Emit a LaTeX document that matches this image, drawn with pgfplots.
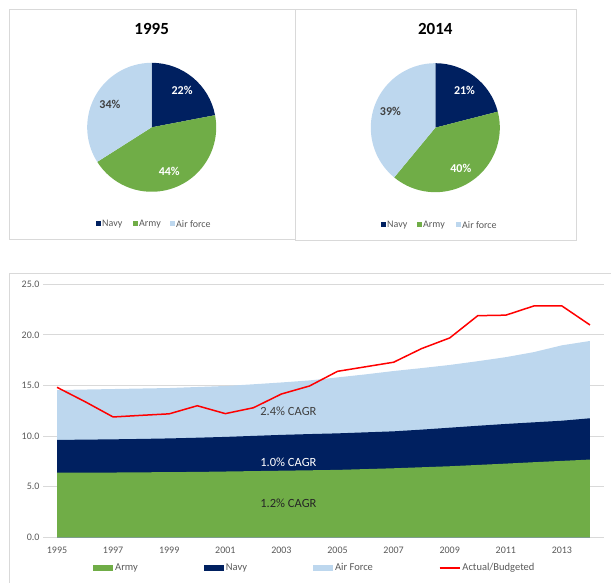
\documentclass[border=0pt]{standalone}
\usepackage{pgfplots}
\pgfplotsset{compat=1.18}
\usepackage{fontspec}
\setmainfont{Carlito}

\definecolor{navyc}{HTML}{002060}
\definecolor{armyc}{HTML}{70AD47}
\definecolor{airc}{HTML}{BDD7EE}
\definecolor{framec}{HTML}{D9D9D9}
\definecolor{ticktext}{HTML}{595959}
\definecolor{darktext}{HTML}{404040}

\pgfplotsset{
  barleg/.style={legend image code/.code={\fill[##1] (0pt,-3pt) rectangle (20pt,3pt);}},
  lineleg/.style={legend image code/.code={\draw[##1] (0pt,0pt) -- (20pt,0pt);}},
  pieaxis/.style={anchor=center, scale only axis, width=129pt, height=129pt,
    xmin=-1, xmax=1, ymin=-1, ymax=1, hide axis, clip=false},
}

\begin{document}
\begin{tikzpicture}[x=1pt,y=1pt]
\path[use as bounding box] (0,0) rectangle (611,583);

% panel frames
\draw[framec] (9,574) rectangle (295,344);
\draw[framec] (295,574) rectangle (576,343);
\draw[framec] (9,310) rectangle (615,-5);

% ---- 1995 pie: Navy 22, Army 44, Air force 34
\node[font=\bfseries\fontsize{17}{19}\selectfont] at (151.7,554) {1995};
\begin{axis}[pieaxis, at={(151.7pt,455.7pt)}]
\fill[navyc] (0,0) -- +(90:64.5pt) arc[start angle=90, delta angle=-79.2, radius=64.5pt] -- cycle;
\fill[armyc] (0,0) -- +(10.8:64.5pt) arc[start angle=10.8, delta angle=-158.4, radius=64.5pt] -- cycle;
\fill[airc] (0,0) -- +(-147.6:64.5pt) arc[start angle=-147.6, delta angle=-122.4, radius=64.5pt] -- cycle;
\path (0,0) ++(50.4:47.7pt) node[white,font=\bfseries\fontsize{12}{14}\selectfont] {22\%};
\path (0,0) ++(-68.4:47.7pt) node[white,font=\bfseries\fontsize{12}{14}\selectfont] {44\%};
\path (0,0) ++(151.2:47.7pt) node[darktext,font=\bfseries\fontsize{12}{14}\selectfont] {34\%};
\end{axis}
\begin{scope}[font=\fontsize{10}{12}\selectfont, text=ticktext]
\fill[navyc] (95.5,356.5) rectangle (100.5,361.5);
\node[anchor=west, inner sep=1.5pt] at (100.5,359) {Navy};
\fill[armyc] (132.5,356.5) rectangle (137.5,361.5);
\node[anchor=west, inner sep=1.5pt] at (137.5,359) {Army};
\fill[airc] (169.5,356.5) rectangle (174.5,361.5);
\node[anchor=west, inner sep=1.5pt] at (174.5,359) {Air force};
\end{scope}

% ---- 2014 pie: Navy 21, Army 40, Air force 39
\node[font=\bfseries\fontsize{17}{19}\selectfont] at (435.3,554) {2014};
\begin{axis}[pieaxis, at={(435.3pt,455.3pt)}]
\fill[navyc] (0,0) -- +(90:64.5pt) arc[start angle=90, delta angle=-75.6, radius=64.5pt] -- cycle;
\fill[armyc] (0,0) -- +(14.4:64.5pt) arc[start angle=14.4, delta angle=-144, radius=64.5pt] -- cycle;
\fill[airc] (0,0) -- +(-129.6:64.5pt) arc[start angle=-129.6, delta angle=-140.4, radius=64.5pt] -- cycle;
\path (0,0) ++(52.2:47.7pt) node[white,font=\bfseries\fontsize{12}{14}\selectfont] {21\%};
\path (0,0) ++(-57.6:47.7pt) node[white,font=\bfseries\fontsize{12}{14}\selectfont] {40\%};
\path (0,0) ++(160.2:47.7pt) node[darktext,font=\bfseries\fontsize{12}{14}\selectfont] {39\%};
\end{axis}
\begin{scope}[font=\fontsize{10}{12}\selectfont, text=ticktext]
\fill[navyc] (380.5,355.5) rectangle (385.5,360.5);
\node[anchor=west, inner sep=1.5pt] at (385.5,358) {Navy};
\fill[armyc] (416.5,355.5) rectangle (421.5,360.5);
\node[anchor=west, inner sep=1.5pt] at (421.5,358) {Army};
\fill[airc] (455.5,355.5) rectangle (460.5,360.5);
\node[anchor=west, inner sep=1.5pt] at (460.5,358) {Air force};
\end{scope}

% ---- spending over time
\begin{axis}[at={(43pt,45.7pt)}, anchor=south west, scale only axis,
  width=561pt, height=253pt,
  xmin=1994.5, xmax=2014.5, ymin=0, ymax=25,
  xtick={1995,1997,...,2013}, ytick={0,5,...,25},
  ymajorgrids, grid style={framec, line width=0.9pt},
  axis line style={draw=none}, major tick length=0pt,
  /pgf/number format/assume math mode=true,
  tick label style={font=\fontsize{10}{12}\selectfont, text=ticktext},
  x tick label style={/pgf/number format/1000 sep={}, yshift=-6pt},
  y tick label style={/pgf/number format/.cd, fixed, fixed zerofill, precision=1},
  legend columns=4,
  legend style={at={(0.0891,-0.121)}, anchor=west, draw=none, fill=none,
    inner sep=0pt, font=\fontsize{10.5}{12}\selectfont, text=ticktext,
    /tikz/every even column/.append style={column sep=64pt}},
  legend cell align=left]
% Air Force (total)
\addplot[fill=airc, draw=none, forget plot] coordinates {
(1995,14.55)(1996,14.60)(1997,14.65)(1998,14.70)(1999,14.75)(2000,14.85)
(2001,14.95)(2002,15.12)(2003,15.30)(2004,15.50)(2005,15.80)(2006,16.10)
(2007,16.43)(2008,16.72)(2009,17.03)(2010,17.40)(2011,17.80)(2012,18.30)
(2013,18.97)(2014,19.40)} \closedcycle;
% Navy (Army + Navy)
\addplot[fill=navyc, draw=none, forget plot] coordinates {
(1995,9.62)(1996,9.65)(1997,9.68)(1998,9.72)(1999,9.77)(2000,9.84)
(2001,9.92)(2002,10.02)(2003,10.12)(2004,10.20)(2005,10.27)(2006,10.37)
(2007,10.47)(2008,10.64)(2009,10.83)(2010,11.02)(2011,11.20)(2012,11.36)
(2013,11.52)(2014,11.76)} \closedcycle;
% Army
\addplot[fill=armyc, draw=none, forget plot] coordinates {
(1995,6.40)(1996,6.40)(1997,6.40)(1998,6.42)(1999,6.44)(2000,6.46)
(2001,6.50)(2002,6.54)(2003,6.58)(2004,6.62)(2005,6.66)(2006,6.74)
(2007,6.82)(2008,6.92)(2009,7.02)(2010,7.15)(2011,7.28)(2012,7.42)
(2013,7.55)(2014,7.68)} \closedcycle;
\addlegendimage{barleg, fill=armyc, draw=none}
\addlegendentry{Army}
\addlegendimage{barleg, fill=navyc, draw=none}
\addlegendentry{Navy}
\addlegendimage{barleg, fill=airc, draw=none}
\addlegendentry{Air Force}
\addplot[red, line width=1.5pt, lineleg] coordinates {
(1995,14.82)(1996,13.40)(1997,11.89)(1998,12.05)(1999,12.20)(2000,13.00)
(2001,12.22)(2002,12.80)(2003,14.16)(2004,14.95)(2005,16.40)(2006,16.85)
(2007,17.30)(2008,18.65)(2009,19.70)(2010,21.90)(2011,21.95)(2012,22.86)
(2013,22.86)(2014,20.98)};
\addlegendentry{Actual/Budgeted}
\node[darktext, font=\fontsize{12.5}{14}\selectfont] at (axis cs:2003.25,12.48) {2.4\% CAGR};
\node[white, font=\fontsize{12.5}{14}\selectfont] at (axis cs:2003.25,7.44) {1.0\% CAGR};
\node[black!85, font=\fontsize{12.5}{14}\selectfont] at (axis cs:2003.25,3.39) {1.2\% CAGR};
\end{axis}
\end{tikzpicture}
\end{document}
